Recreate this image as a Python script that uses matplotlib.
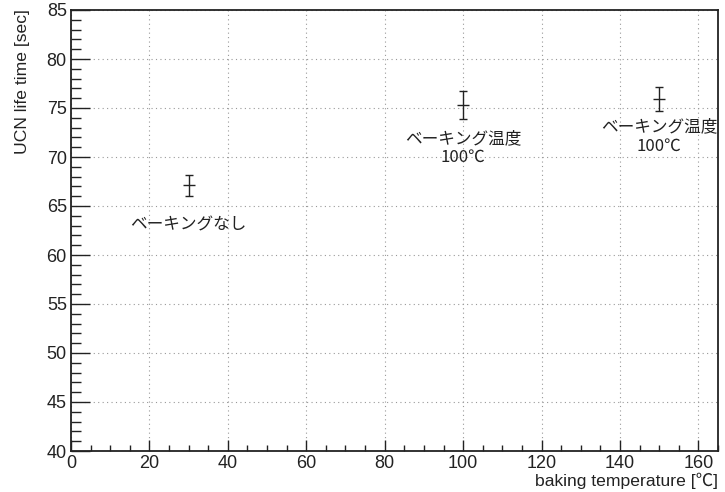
import matplotlib
matplotlib.use("Agg")
import matplotlib.pyplot as plt
from matplotlib.ticker import MultipleLocator

temps = [30, 100, 150]
lifetimes = [67.1, 75.3, 75.9]
errors = [1.1, 1.4, 1.2]
labels = ["ベーキングなし", "ベーキング温度\n100℃", "ベーキング温度\n100℃"]
label_pos = [(30, 63.1), (100, 70.9), (150, 72.1)]

fam = ['Liberation Sans', 'Noto Sans CJK JP', 'DejaVu Sans']
jfam = ['Noto Sans CJK JP', 'DejaVu Sans']

fig = plt.figure(figsize=(7.25, 4.92), dpi=100)
ax = fig.add_axes([71/725, 1-451/492, (718-71)/725, (451-10)/492])

ax.errorbar(temps, lifetimes, yerr=errors, fmt='_', color='#222222',
            markersize=8, elinewidth=1.0, capsize=3, capthick=1.0, mew=1.0)

for (x, y), t in zip(label_pos, labels):
    ax.text(x, y, t, ha='center', va='center', fontsize=12, family=jfam,
            color='#222222', linespacing=1.15)

ax.set_xlim(0, 165)
ax.set_ylim(40, 85)
ax.xaxis.set_major_locator(MultipleLocator(20))
ax.xaxis.set_minor_locator(MultipleLocator(5))
ax.yaxis.set_major_locator(MultipleLocator(5))
ax.yaxis.set_minor_locator(MultipleLocator(1))
ax.grid(True, which='major', linestyle=(0, (1, 3)), color='#999999', linewidth=0.8)

ax.tick_params(axis='both', which='both', direction='in', colors='#222222',
               labelsize=13, width=1.0)
ax.tick_params(axis='x', which='major', length=8, pad=3)
ax.tick_params(axis='x', which='minor', length=4.3)
ax.tick_params(axis='y', which='major', length=13.5, pad=3)
ax.tick_params(axis='y', which='minor', length=7.5)
ax.tick_params(top=False, right=False, which='both')
for lbl in ax.get_xticklabels() + ax.get_yticklabels():
    lbl.set_family(fam)

for s in ax.spines.values():
    s.set_linewidth(1.3)
    s.set_color('#222222')

fig.text(23/725, 1-9/492, "UCN life time [sec]", rotation=90, ha='center', va='top',
         fontsize=12.6, family=fam, color='#222222')
fig.text(718/725, 1-481/492, "baking temperature [℃]", ha='right', va='center',
         fontsize=12.6, family=fam, color='#222222')

fig.savefig("out.png", dpi=100)
